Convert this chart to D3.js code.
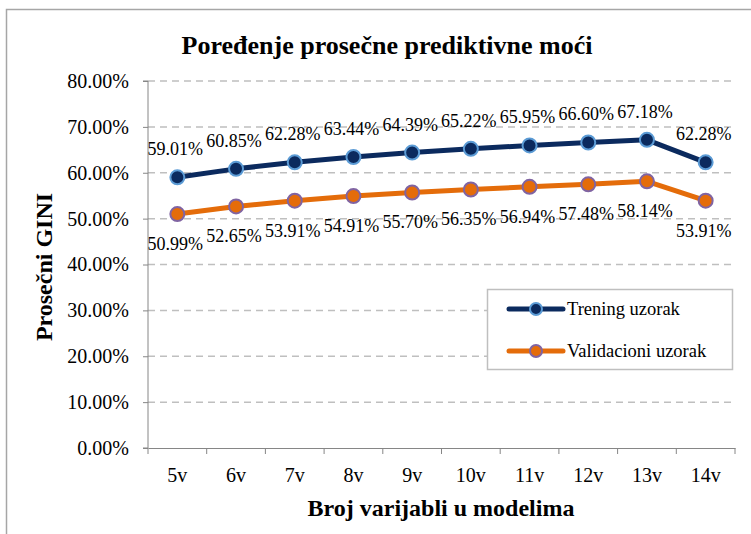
<!DOCTYPE html>
<html><head><meta charset="utf-8">
<script src="https://cdn.jsdelivr.net/npm/d3@7"></script>
<style>body{margin:0;background:#fff}svg{display:block}text{font-family:"Liberation Serif","Times New Roman",serif;fill:#000}</style>
</head><body><svg id="c" width="751" height="534"></svg>
<script>
const categories = ["5v","6v","7v","8v","9v","10v","11v","12v","13v","14v"];
const trening = [59.01,60.85,62.28,63.44,64.39,65.22,65.95,66.60,67.18,62.28];
const validacioni = [50.99,52.65,53.91,54.91,55.70,56.35,56.94,57.48,58.14,53.91];
const yTicks = [0,10,20,30,40,50,60,70,80];
const seriesNames = ["Trening uzorak","Validacioni uzorak"];

const FONT = '"Liberation Serif","Times New Roman",serif';
const svg = d3.select("#c");
const m = {l:148, r:735, t:81, b:448};
const x = d3.scaleBand().domain(categories).range([m.l, m.r]);
const y = d3.scaleLinear().domain([0,80]).range([m.b, m.t]);

// outer frame
svg.append("path").attr("d","M6.5,534 V9.5 H751").attr("fill","none").attr("stroke","#a6a6a6").attr("stroke-width",1.5);

// gridlines
svg.append("g").selectAll("line").data(yTicks.filter(d=>d>0)).join("line")
  .attr("x1",m.l).attr("x2",m.r).attr("y1",d=>y(d)).attr("y2",d=>y(d))
  .attr("stroke","#bfbfbf").attr("stroke-width",1.5).attr("stroke-dasharray","7,5");

// y axis
const ya = svg.append("g").attr("transform",`translate(${m.l},0)`)
  .call(d3.axisLeft(y).tickValues(yTicks).tickFormat(d=>d.toFixed(2)+"%").tickSize(5).tickPadding(14));
ya.attr("font-family",FONT);
ya.select(".domain").attr("stroke","#868686").attr("d",`M-5,${m.b}H0V${m.t}H-5`);
ya.selectAll(".tick line").attr("stroke","#868686");
ya.selectAll("text").style("font-family",FONT).style("font-size","20px").attr("fill","#000");

// x axis
const xa = svg.append("g").attr("transform",`translate(0,${m.b})`)
  .call(d3.axisBottom(x).tickSize(0).tickPadding(20));
xa.attr("font-family",FONT);
xa.select(".domain").attr("stroke","#868686");
xa.selectAll(".tick text").style("font-family",FONT).style("font-size","20px").attr("fill","#000");
const bounds = categories.map(c=>x(c)).concat([m.r]);
svg.append("g").selectAll("line").data(bounds).join("line")
  .attr("x1",d=>d).attr("x2",d=>d).attr("y1",m.b).attr("y2",m.b+6).attr("stroke","#868686");

// title & axis labels
svg.append("text").attr("x",387).attr("y",54).attr("text-anchor","middle")
  .style("font-size","26px").style("font-weight","bold").text("Poređenje prosečne prediktivne moći");
svg.append("text").attr("x",441).attr("y",516).attr("text-anchor","middle")
  .style("font-size","24px").style("font-weight","bold").text("Broj varijabli u modelima");
svg.append("text").attr("transform","translate(52,267) rotate(-90)").attr("text-anchor","middle")
  .style("font-size","24px").style("font-weight","bold").text("Prosečni GINI");

const series = [
  {name:seriesNames[0], values:trening, line:"#0b2a5e", fill:"#0b2a5e", stroke:"#5b9bd5", dy:-22},
  {name:seriesNames[1], values:validacioni, line:"#e46c0a", fill:"#e46c0a", stroke:"#8064a2", dy:36}
];
const cx = c=>x(c)+x.bandwidth()/2;
const line = d3.line().x((d,i)=>cx(categories[i])).y(d=>y(d));
series.forEach(s=>{
  svg.append("path").attr("d",line(s.values)).attr("fill","none").attr("stroke",s.line).attr("stroke-width",5).attr("stroke-linejoin","round");
  svg.append("g").selectAll("circle").data(s.values).join("circle")
    .attr("cx",(d,i)=>cx(categories[i])).attr("cy",d=>y(d)).attr("r",7)
    .attr("fill",s.fill).attr("stroke",s.stroke).attr("stroke-width",2);
  svg.append("g").selectAll("text").data(s.values).join("text")
    .attr("x",(d,i)=>cx(categories[i])-2).attr("y",d=>y(d)+s.dy).attr("text-anchor","middle")
    .style("font-size","18px").text(d=>d.toFixed(2)+"%");
});

// legend
const lg = svg.append("g");
lg.append("rect").attr("x",487.5).attr("y",289.5).attr("width",245).attr("height",80)
  .attr("fill","#fff").attr("stroke","#bfbfbf").attr("stroke-width",1.5);
series.forEach((s,i)=>{
  const ly = 309 + i*42;
  lg.append("line").attr("x1",509).attr("x2",563).attr("y1",ly).attr("y2",ly).attr("stroke",s.line).attr("stroke-width",5).attr("stroke-linecap","round");
  lg.append("circle").attr("cx",536).attr("cy",ly).attr("r",6).attr("fill",s.fill).attr("stroke",s.stroke).attr("stroke-width",2);
  lg.append("text").attr("x",567).attr("y",ly+6).style("font-size","18.5px").text(s.name);
});
</script></body></html>
